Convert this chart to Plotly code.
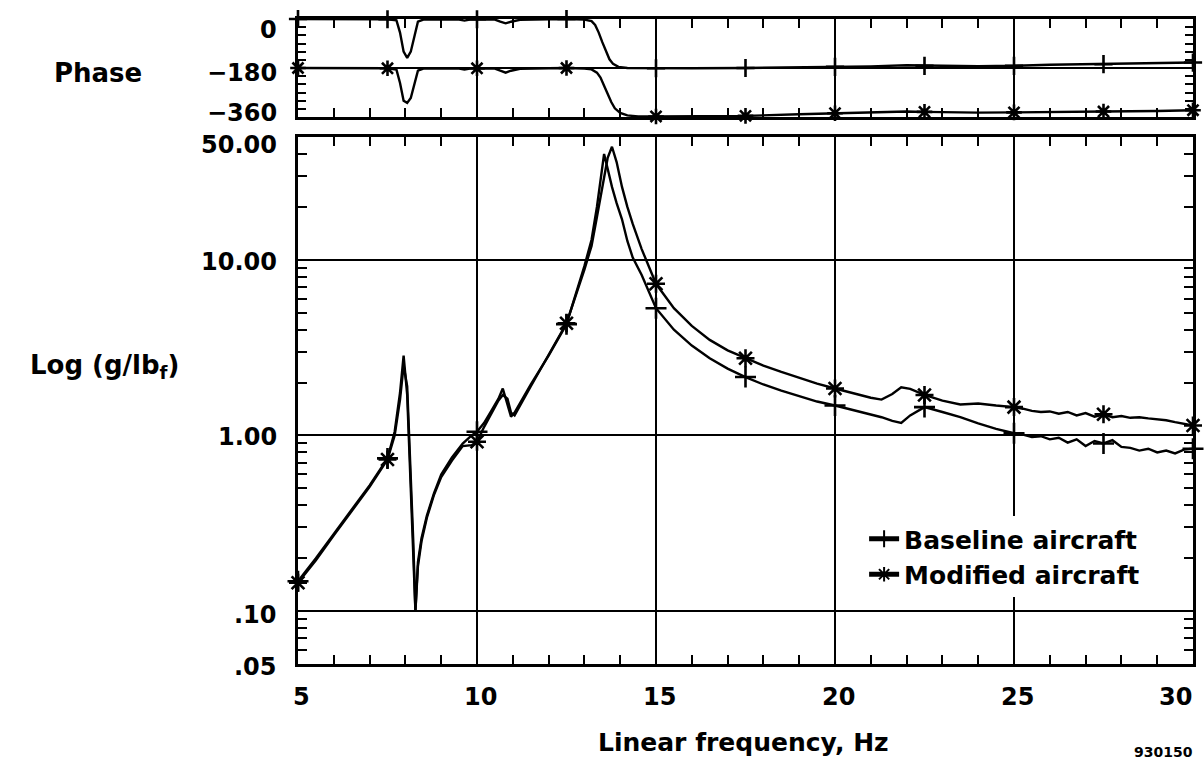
import numpy as np
import plotly.graph_objects as go

# ---- frequency response magnitude (g/lbf) ----
freq_mag = [
    5.0, 5.5, 6.0, 6.5, 7.0, 7.5, 7.7, 7.85, 7.95, 8.05,
    8.15, 8.22, 8.28, 8.35, 8.45, 8.6, 8.8, 9.0, 9.3, 9.6,
    9.85, 10.0, 10.2, 10.4, 10.6, 10.72, 10.85, 10.95, 11.05, 11.5,
    12.0, 12.5, 13.0, 13.2, 13.35, 13.45, 13.55, 13.65, 13.77, 13.9,
    14.05, 14.2, 14.35, 14.6, 15.0, 15.5, 16.0, 16.5, 17.0, 17.5,
    18.0, 18.5, 19.0, 19.5, 20.0, 20.5, 21.0, 21.3, 21.6, 21.85,
    22.1, 22.5, 23.0, 23.5, 24.0, 24.5, 25.0, 25.25, 25.5, 25.75,
    26.0, 26.25, 26.5, 26.75, 27.0, 27.25, 27.5, 27.75, 28.0, 28.25,
    28.5, 28.75, 29.0, 29.25, 29.5, 29.75, 30.0,
]
mag_baseline = [
    0.148, 0.20, 0.275, 0.38, 0.52, 0.74, 1.05, 1.75, 2.85, 1.7,
    0.5, 0.2, 0.1, 0.19, 0.26, 0.35, 0.47, 0.6, 0.75, 0.9,
    1.0, 1.05, 1.18, 1.38, 1.62, 1.85, 1.5, 1.28, 1.35, 1.95,
    2.85, 4.3, 9.2, 13.0, 20.0, 29.0, 40.0, 33.0, 26.0, 21.0,
    17.0, 12.8, 10.3, 8.2, 5.3, 4.0, 3.25, 2.75, 2.4, 2.15,
    1.95, 1.8, 1.67, 1.56, 1.48, 1.40, 1.32, 1.27, 1.21, 1.18,
    1.3, 1.45, 1.36, 1.27, 1.17, 1.09, 1.03, 1.01, 0.98, 0.99,
    0.95, 0.97, 0.91, 0.95, 0.87, 0.93, 0.9, 0.94, 0.86, 0.85,
    0.82, 0.84, 0.80, 0.82, 0.79, 0.83, 0.84,
]
mag_modified = [
    0.145, 0.195, 0.27, 0.37, 0.51, 0.73, 1.0, 1.6, 2.5, 1.9,
    0.6, 0.25, 0.1, 0.18, 0.25, 0.34, 0.46, 0.58, 0.72, 0.87,
    0.88, 0.92, 1.12, 1.32, 1.58, 1.7, 1.62, 1.35, 1.3, 1.9,
    2.85, 4.35, 8.8, 12.0, 17.5, 23.0, 30.0, 38.0, 44.0, 36.0,
    26.0, 20.0, 16.0, 11.5, 7.3, 5.3, 4.2, 3.5, 3.05, 2.75,
    2.5, 2.3, 2.12, 1.97, 1.85, 1.74, 1.64, 1.6, 1.72, 1.88,
    1.84, 1.7, 1.58, 1.5, 1.52, 1.48, 1.45, 1.42, 1.38, 1.36,
    1.37, 1.33, 1.36, 1.30, 1.34, 1.28, 1.32, 1.27, 1.29, 1.26,
    1.27, 1.25, 1.24, 1.22, 1.19, 1.16, 1.14,
]

# ---- phase (deg); modified trace is offset by -180 deg ----
freq_phase_base = [
    5.0, 6.0, 7.0, 7.5, 7.75, 7.85, 7.95, 8.05, 8.15, 8.25,
    8.35, 8.5, 9.0, 9.5, 9.65, 9.8, 10.0, 10.5, 10.65, 10.8,
    10.95, 11.2, 12.0, 12.5, 13.0, 13.2, 13.3, 13.4, 13.5, 13.6,
    13.7, 13.8, 13.95, 14.2, 15.0, 16.0, 17.5, 19.0, 20.0, 21.0,
    22.0, 22.5, 23.0, 24.0, 25.0, 26.0, 27.5, 29.0, 30.0,
]
phase_baseline = [
    0, 0, -1, -1, -5, -50, -120, -143, -120, -60,
    -10, -2, -1, -2, -6, -2, -1, -2, -10, -16,
    -10, -3, -1, 0, -2, -8, -22, -50, -85, -120,
    -148, -165, -176, -180, -181, -181, -180, -178, -176, -174,
    -170, -172, -172, -173, -172, -168, -166, -164, -160,
]
freq_phase_mod = [
    5.0, 6.0, 7.0, 7.5, 7.75, 7.85, 7.95, 8.05, 8.15, 8.25,
    8.35, 8.5, 9.0, 9.5, 9.65, 9.8, 10.0, 10.5, 10.65, 10.8,
    10.95, 11.2, 12.0, 12.5, 13.0, 13.2, 13.35, 13.45, 13.55, 13.65,
    13.75, 13.85, 14.0, 14.2, 14.5, 15.0, 16.0, 17.5, 19.0, 20.0,
    21.0, 22.0, 22.5, 23.0, 24.0, 25.0, 26.0, 27.5, 29.0, 30.0,
]
phase_modified = [
    -180, -180, -181, -181, -186, -235, -300, -308, -290, -235,
    -190, -182, -181, -182, -186, -182, -181, -182, -190, -197,
    -190, -183, -181, -180, -182, -185, -197, -215, -245, -275,
    -305, -328, -345, -354, -358, -358, -358, -356, -350, -346,
    -342, -340, -341, -342, -344, -343, -341, -340, -338, -335,
]

x_ticks = [5, 10, 15, 20, 25, 30]
mag_ticks = [0.05, 0.1, 1, 10, 50]
mag_tick_text = [".05", ".10", "1.00", "10.00", "50.00"]
mag_minor = [0.06, 0.07, 0.08, 0.09] + [k / 10 for k in range(2, 10)] + \
            list(range(2, 10)) + [20, 30, 40]
phase_ticks = [0, -180, -360]
phase_tick_text = ["0", "\u2212180", "\u2212360"]
marker_every = 2.5

# vertical nudges (px) applied to the y tick labels
mag_label_shift = [-3, -4, -2, -2, -8]
phase_label_shift = [-11, -5, 4]

# ---- page geometry (pixels) ----
W, H = 1204, 761
ML, MR, MT, MB = 298, 8, 19, 97
plot_w = W - ML - MR
plot_h = H - MT - MB


def px_x(px):
    return (px - ML) / plot_w


def px_y(py):
    return (H - MB - py) / plot_h


FONT = "DejaVu Sans"


def marker_sizes(freqs, size):
    f = np.asarray(freqs)
    r = np.mod(f, marker_every)
    on = np.isclose(r, 0) | np.isclose(r, marker_every)
    return np.where(on, size, 0)


plus_marker = dict(symbol="cross-thin", color="black", opacity=1,
                   line=dict(color="black", width=2.6))
star_marker = dict(symbol="asterisk", color="black", opacity=1,
                   line=dict(color="black", width=2.6))
curve = dict(color="black", width=2.4)

fig = go.Figure()

# phase panel
fig.add_trace(go.Scatter(
    x=freq_phase_base, y=phase_baseline, mode="lines+markers", line=curve,
    marker=dict(plus_marker, size=marker_sizes(freq_phase_base, 13)),
    xaxis="x2", yaxis="y2", showlegend=False, cliponaxis=False))
fig.add_trace(go.Scatter(
    x=freq_phase_mod, y=phase_modified, mode="lines+markers", line=curve,
    marker=dict(star_marker, size=marker_sizes(freq_phase_mod, 13)),
    xaxis="x2", yaxis="y2", showlegend=False, cliponaxis=False))

# magnitude panel
fig.add_trace(go.Scatter(
    x=freq_mag, y=mag_baseline, mode="lines+markers",
    name="Baseline aircraft", line=curve,
    marker=dict(plus_marker, size=marker_sizes(freq_mag, 15)),
    xaxis="x", yaxis="y", cliponaxis=False))
fig.add_trace(go.Scatter(
    x=freq_mag, y=mag_modified, mode="lines+markers",
    name="Modified aircraft", line=curve,
    marker=dict(star_marker, size=marker_sizes(freq_mag, 15)),
    xaxis="x", yaxis="y", cliponaxis=False))

x_common = dict(
    range=[5, 30], tickmode="array", tickvals=x_ticks, showticklabels=False,
    ticks="inside", ticklen=9, tickwidth=2, tickcolor="black",
    showgrid=True, gridcolor="black", gridwidth=1.6,
    showline=True, linecolor="black", linewidth=2.5, mirror="allticks",
    zeroline=False,
    minor=dict(dtick=1, tick0=5, ticks="inside", ticklen=9, tickwidth=2,
               tickcolor="black", showgrid=False),
)

tick_font = dict(family=FONT, size=24, color="black", weight="bold")

fig.update_layout(
    width=W, height=H,
    margin=dict(l=ML, r=MR, t=MT, b=MB, pad=0),
    paper_bgcolor="white", plot_bgcolor="white",
    font=dict(family=FONT, size=24, color="black", weight="bold"),
    xaxis=dict(x_common, anchor="y", domain=[0, 1]),
    xaxis2=dict(x_common, anchor="y2", domain=[0, 1], matches="x"),
    yaxis=dict(
        type="log", range=[np.log10(0.05), np.log10(50)],
        domain=[0, px_y(137)],
        tickmode="array", tickvals=mag_ticks, showticklabels=False,
        ticks="inside", ticklen=10, tickwidth=2, tickcolor="black",
        showgrid=True, gridcolor="black", gridwidth=2,
        showline=True, linecolor="black", linewidth=2.5, mirror="allticks",
        zeroline=False,
        minor=dict(tickmode="array", tickvals=mag_minor, ticks="inside",
                   ticklen=9, tickwidth=2, tickcolor="black", showgrid=False),
    ),
    yaxis2=dict(
        range=[-360, 0], domain=[px_y(117), 1],
        tickmode="array", tickvals=phase_ticks, showticklabels=False,
        ticks="inside", ticklen=10, tickwidth=2, tickcolor="black",
        showgrid=True, gridcolor="black", gridwidth=2,
        showline=True, linecolor="black", linewidth=2.5, mirror="allticks",
        zeroline=False,
        minor=dict(dtick=30, tick0=0, ticks="inside", ticklen=8, tickwidth=2,
                   tickcolor="black", showgrid=False),
    ),
    legend=dict(
        x=px_x(866), y=px_y(516), xanchor="left", yanchor="top",
        bgcolor="white", borderwidth=0, itemsizing="constant",
        font=dict(family=FONT, size=25, color="black", weight="bold"),
        tracegroupgap=0,
    ),
    showlegend=True,
)

annotations = []
# frequency tick labels
for v in x_ticks:
    last = v == x_ticks[-1]
    annotations.append(dict(
        x=v, y=px_y(697), xref="x", yref="paper",
        text=str(v), showarrow=False,
        xanchor="right" if last else "center", yanchor="middle",
        xshift=1 if last else 3, font=tick_font))

# magnitude tick labels
for v, t, s in zip(mag_ticks, mag_tick_text, mag_label_shift):
    annotations.append(dict(
        x=px_x(279), y=np.log10(v), xref="paper", yref="y",
        text=t, showarrow=False, xanchor="right", yanchor="middle",
        yshift=s, font=tick_font))

# phase tick labels
for v, t, s in zip(phase_ticks, phase_tick_text, phase_label_shift):
    annotations.append(dict(
        x=px_x(279), y=v, xref="paper", yref="y2",
        text=t, showarrow=False, xanchor="right", yanchor="middle",
        yshift=s, font=tick_font))

annotations += [
    dict(x=px_x(745), y=px_y(742), xref="paper", yref="paper",
         text="Linear frequency, Hz", showarrow=False,
         xanchor="center", yanchor="middle",
         font=dict(family=FONT, size=25, color="black", weight="bold")),
    dict(x=px_x(97), y=px_y(73), xref="paper", yref="paper",
         text="Phase", showarrow=False, xanchor="center", yanchor="middle",
         font=dict(family=FONT, size=26, color="black", weight="bold")),
    dict(x=px_x(104), y=px_y(366), xref="paper", yref="paper",
         text="Log (g/lb<sub>f</sub>)", showarrow=False,
         xanchor="center", yanchor="middle",
         font=dict(family=FONT, size=26, color="black", weight="bold")),
    dict(x=px_x(1198), y=px_y(752), xref="paper", yref="paper",
         text="930150", showarrow=False, xanchor="right", yanchor="middle",
         font=dict(family=FONT, size=14, color="black", weight="bold")),
]
fig.update_layout(annotations=annotations)

fig.write_html("out.html")
